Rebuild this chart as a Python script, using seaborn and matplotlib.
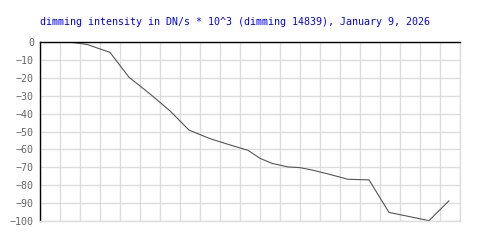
import matplotlib
matplotlib.use("Agg")
import matplotlib.pyplot as plt
import seaborn as sns
import pandas as pd

# data (x in grid-column units, y in DN/s * 10^3)
time_pos = [1.65, 2.0, 2.4, 2.9, 3.5, 4.45, 5.5, 6.5, 7.45, 8.5, 9.5, 10.4,
            11.0, 11.6, 12.4, 13.0, 13.6, 14.5, 15.4, 16.45, 17.45, 18.5,
            19.45, 20.45]
intensity = [-0.3, -0.8, -1.5, -3.5, -5.8, -19.7, -29.0, -38.5, -49.2, -54.0,
             -57.5, -60.5, -65.0, -67.8, -69.8, -70.2, -71.5, -74.0, -76.7,
             -77.0, -95.2, -97.6, -99.8, -88.7]
y_ticks = [0, -10, -20, -30, -40, -50, -60, -70, -80, -90, -100]
title = "dimming intensity in DN/s * 10^3 (dimming 14839), January 9, 2026"

df = pd.DataFrame({"t": time_pos, "v": intensity})

sns.set_style("white")
plt.rcParams['font.family'] = ['DejaVu Sans Mono', 'DejaVu Sans']

fig = plt.figure(figsize=(5, 2.5), dpi=100)
ax = fig.add_axes([0.08, 0.116, 0.84, 0.716])

sns.lineplot(data=df, x="t", y="v", ax=ax, color="#555555", linewidth=0.8)

ax.set_xlim(0, 21)
ax.set_ylim(-100, 0)
ax.set_xticks(range(0, 22))
ax.set_yticks(y_ticks)
ax.set_yticklabels([str(v).replace("-", "\u2212") for v in y_ticks])
ax.tick_params(axis="x", length=0, labelbottom=False)
ax.tick_params(axis="y", length=0, pad=4.3, labelsize=7.2, labelcolor="#666666")
ax.grid(True, color="#dddddd", linewidth=1.0)
ax.set_axisbelow(True)
ax.set_xlabel("")
ax.set_ylabel("")

for side in ["top", "left"]:
    ax.spines[side].set_color("black")
    ax.spines[side].set_linewidth(1.0)
for side in ["right", "bottom"]:
    ax.spines[side].set_color("#dddddd")
    ax.spines[side].set_linewidth(1.0)

fig.text(0.08, 0.912, title, color="#0000ff", fontsize=7.2, ha="left",
         va="center", family=['DejaVu Sans Mono', 'DejaVu Sans'])

fig.savefig("out.png", dpi=100)
